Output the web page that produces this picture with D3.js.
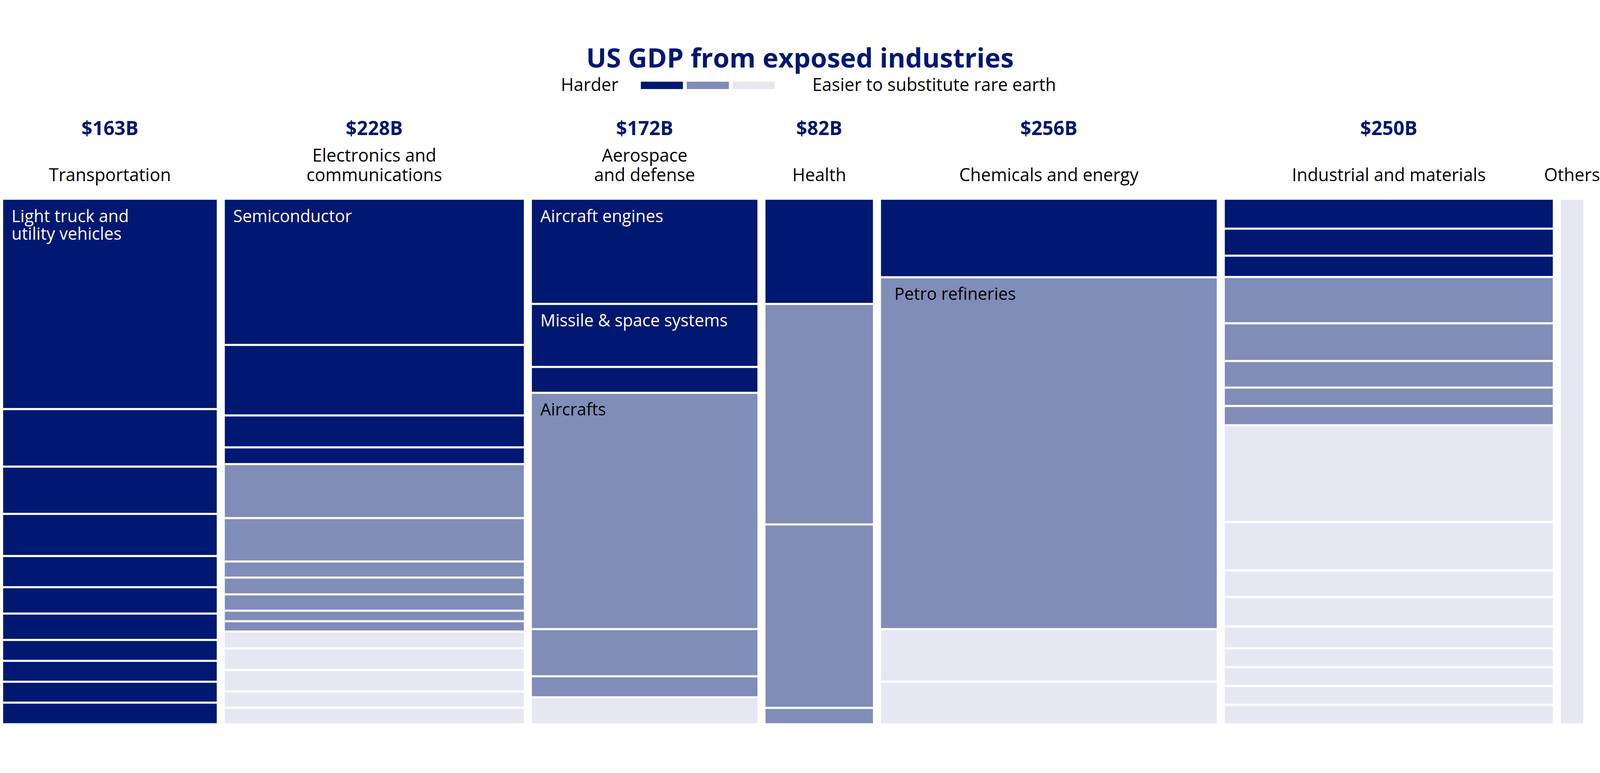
<!DOCTYPE html>
<html>
<head>
<meta charset="utf-8">
<script src="https://cdn.jsdelivr.net/npm/d3@7"></script>
<style>
  html, body { margin: 0; padding: 0; background: #fff; overflow: hidden; }
  svg { display: block; }
  text { font-family: "Open Sans", sans-serif; }
</style>
</head>
<body>
<div id="chart"></div>
<script>
var svgWidth = 4564;
var svgHeight = 1980;

// sectors and their labels
var sectors = ["Transportation", "Electronics and communications", "Aerospace and defense", "Health", "Chemicals and energy", "Industrial and materials", "Others"];
var sectorLines = [["Transportation"], ["Electronics and", "communications"], ["Aerospace", "and defense"], ["Health"], ["Chemicals and energy"], ["Industrial and materials"], ["Others"]];
var totalLabels = ["$163B", "$228B", "$172B", "$82B", "$256B", "$250B", ""];

// sub-industry values ($B) per sector, level 0 = harder, 1 = medium, 2 = easier to substitute
var transportValues = [65.1, 17.9, 14.7, 13.1, 9.7, 8.2, 8.2, 6.5, 6.5, 6.5, 6.4];
var transportLevels = [0, 0, 0, 0, 0, 0, 0, 0, 0, 0, 0];
var electronicsValues = [63.2, 30.7, 13.9, 7.3, 23.5, 18.9, 7.0, 7.3, 7.1, 4.6, 4.5, 7.3, 9.4, 9.4, 7.1, 6.7];
var electronicsLevels = [0, 0, 0, 0, 1, 1, 1, 1, 1, 1, 1, 2, 2, 2, 2, 2];
var aerospaceValues = [34.2, 20.7, 8.5, 77.6, 15.5, 6.9, 8.5];
var aerospaceLevels = [0, 0, 0, 1, 1, 1, 2];
var healthValues = [16.3, 34.5, 28.7, 2.4];
var healthLevels = [0, 1, 1, 1];
var chemicalsValues = [37.9, 172.0, 25.7, 20.3];
var chemicalsLevels = [0, 1, 2, 2];
var industrialValues = [13.8, 12.9, 10.2, 22.1, 18.0, 12.7, 8.8, 9.2, 46.2, 23.1, 12.7, 14.1, 10.4, 9.0, 9.0, 9.0, 8.8];
var industrialLevels = [0, 0, 0, 1, 1, 1, 1, 1, 2, 2, 2, 2, 2, 2, 2, 2, 2];
var othersValues = [17];
var othersLevels = [2];

// labels shown inside some cells: [sector index, cell index, lines]
var cellLabels = [
  [0, 0, ["Light truck and", "utility vehicles"]],
  [1, 0, ["Semiconductor"]],
  [2, 0, ["Aircraft engines"]],
  [2, 1, ["Missile & space systems"]],
  [2, 3, ["Aircrafts"]],
  [4, 1, ["Petro refineries"]]
];

var legendLabels = ["Harder", "Easier to substitute rare earth"];
var colors = ["#001871", "#808db8", "#e6e7f3"];

var allValues = [transportValues, electronicsValues, aerospaceValues, healthValues, chemicalsValues, industrialValues, othersValues];
var allLevels = [transportLevels, electronicsLevels, aerospaceLevels, healthLevels, chemicalsLevels, industrialLevels, othersLevels];

var chartLeft = 9, chartRight = 4516, chartTop = 457, chartBottom = 1951;
var gap = 23;

var totals = allValues.map(v => d3.sum(v));
var grand = d3.sum(totals);
var xScale = d3.scaleLinear()
  .domain([0, grand])
  .range([0, chartRight - chartLeft - gap * (sectors.length - 1)]);

var svg = d3.select("#chart").append("svg")
  .attr("viewBox", `0 0 ${svgWidth} ${svgHeight}`)
  .attr("preserveAspectRatio", "xMidYMid meet")
  .style("width", "100vw")
  .style("height", "100vh");

// title and legend
svg.append("text")
  .attr("x", 2282).attr("y", 80)
  .attr("text-anchor", "middle")
  .attr("font-size", 76).attr("font-weight", "bold")
  .attr("fill", "#001871")
  .text("US GDP from exposed industries");

svg.append("text")
  .attr("x", 1764).attr("y", 146)
  .attr("text-anchor", "end").attr("font-size", 50)
  .text(legendLabels[0]);
svg.append("text")
  .attr("x", 2317).attr("y", 146)
  .attr("font-size", 50)
  .text(legendLabels[1]);
svg.selectAll(".swatch")
  .data(colors).enter().append("rect")
  .attr("x", (d, i) => 1828 + i * 131)
  .attr("y", 120).attr("width", 120).attr("height", 21)
  .attr("fill", d => d);

// columns
var x0 = chartLeft;
sectors.forEach(function (s, si) {
  var w = xScale(totals[si]);
  var yScale = d3.scaleLinear().domain([0, totals[si]]).range([chartTop, chartBottom]);
  var cum = d3.cumsum([0].concat(allValues[si]));
  var g = svg.append("g").attr("transform", `translate(${x0},0)`);

  g.selectAll("rect")
    .data(allValues[si]).enter().append("rect")
    .attr("x", 0)
    .attr("y", (d, i) => yScale(cum[i]) + (i > 0 ? 3 : 0))
    .attr("width", w)
    .attr("height", (d, i) => Math.max(0, yScale(cum[i + 1]) - yScale(cum[i]) - (i > 0 ? 3 : 0) - (i < allValues[si].length - 1 ? 3 : 0)))
    .attr("fill", (d, i) => colors[allLevels[si][i]]);

  var cx = w / 2;
  if (totalLabels[si]) {
    g.append("text")
      .attr("x", cx).attr("y", 272)
      .attr("text-anchor", "middle")
      .attr("font-size", 55).attr("font-weight", "bold")
      .attr("fill", "#001871")
      .text(totalLabels[si]);
  }
  var lines = sectorLines[si];
  lines.forEach(function (ln, li) {
    g.append("text")
      .attr("x", cx).attr("y", 404 - (lines.length - 1 - li) * 56)
      .attr("text-anchor", "middle")
      .attr("font-size", 50)
      .text(ln);
  });

  cellLabels.filter(c => c[0] === si).forEach(function (c) {
    var lvl = allLevels[si][c[1]];
    c[2].forEach(function (ln, li) {
      g.append("text")
        .attr("x", 24 + (si === 4 ? 14 : 0))
        .attr("y", yScale(cum[c[1]]) + 64 + li * 50)
        .attr("font-size", 48)
        .attr("fill", lvl === 0 ? "#fff" : "#000")
        .text(ln);
    });
  });

  x0 += w + gap;
});
</script>
</body>
</html>
